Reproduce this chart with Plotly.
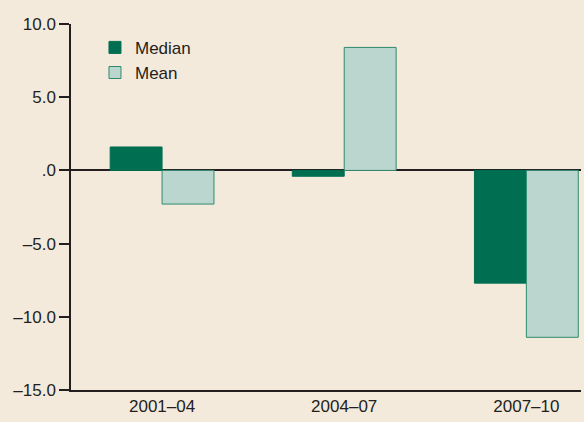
import plotly.graph_objects as go

categories = ["2001–04", "2004–07", "2007–10"]
median_vals = [1.6, -0.4, -7.7]
mean_vals = [-2.3, 8.4, -11.4]
tick_vals = [10, 5, 0, -5, -10, -15]
tick_text = ["10.0", "5.0", ".0", "–5.0", "–10.0", "–15.0"]

BG = "#F3EADC"
FONT = "Liberation Sans Narrow, Arial Narrow, Liberation Sans, sans-serif"

fig = go.Figure()
fig.add_trace(go.Bar(x=categories, y=median_vals, name="Median",
                     marker=dict(color="#006F51", line=dict(color="#006F51", width=1))))
fig.add_trace(go.Bar(x=categories, y=mean_vals, name="Mean",
                     marker=dict(color="#BBD6CF", line=dict(color="#2E8A6C", width=1))))

fig.update_layout(
    width=584, height=422,
    paper_bgcolor=BG, plot_bgcolor=BG,
    margin=dict(l=71, r=3, t=24, b=32),
    barmode="group", bargap=0.43, bargroupgap=0,
    font=dict(family=FONT, size=17, color="#231F20"),
    showlegend=True,
    legend=dict(x=0.047, y=0.984, xanchor="left", yanchor="top",
                bgcolor="rgba(0,0,0,0)", font=dict(size=17),
                itemwidth=30, tracegroupgap=4),
    xaxis=dict(type="category", range=[-0.5, 2.3], showgrid=False,
               showline=True, linecolor="#231F20", linewidth=1.5,
               ticks="", zeroline=False, tickfont=dict(size=17)),
    yaxis=dict(range=[-15, 10], tickvals=tick_vals, ticktext=tick_text,
               showgrid=False, showline=True, linecolor="#231F20", linewidth=1.5,
               ticks="outside", ticklen=10, tickwidth=1.5, tickcolor="#231F20",
               zeroline=True, zerolinecolor="#231F20", zerolinewidth=1.5,
               tickfont=dict(size=17)),
)

fig.write_html("out.html", config={"displayModeBar": False},
               post_script="document.body.style.margin='0';document.body.style.background='%s';" % BG)
